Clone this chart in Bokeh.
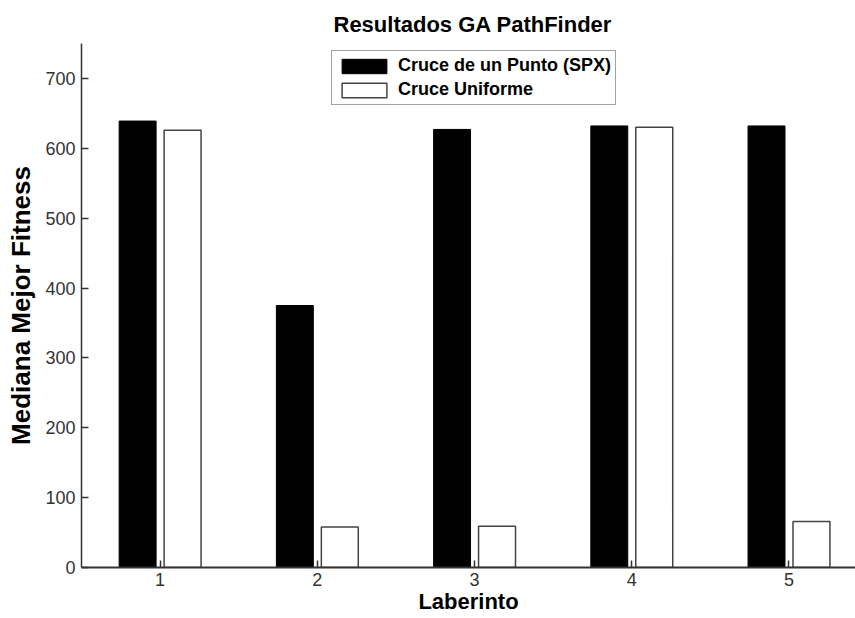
from bokeh.plotting import figure
from bokeh.models import ColumnDataSource, FixedTicker, Range1d, Legend, LegendItem
from bokeh.transform import dodge
from bokeh.embed import file_html
from bokeh.resources import INLINE

# ---- data ----
laberintos = [1, 2, 3, 4, 5]
spx = [639, 375, 627, 632, 632]          # Cruce de un Punto (SPX)
uniforme = [626, 58, 59, 630, 66]        # Cruce Uniforme
y_ticks = [0, 100, 200, 300, 400, 500, 600, 700]
series_names = ["Cruce de un Punto (SPX)", "Cruce Uniforme"]

FONT = "Liberation Sans"
AX = "#333333"

src = ColumnDataSource(dict(x=laberintos, spx=spx, uni=uniforme))

p = figure(width=855, height=618,
           x_range=Range1d(0.5, 5.423), y_range=Range1d(0, 750),
           output_backend="svg", toolbar_location=None,
           title="Resultados GA PathFinder",
           min_border_left=81, min_border_right=0,
           min_border_top=43, min_border_bottom=51)

p.background_fill_color = "white"
p.border_fill_color = "white"
p.outline_line_color = None
p.xgrid.grid_line_color = None
p.ygrid.grid_line_color = None

r1 = p.vbar(x=dodge("x", -0.143, range=p.x_range), top="spx", width=0.235,
            source=src, fill_color="black", line_color="black", line_width=1)
r2 = p.vbar(x=dodge("x", 0.143, range=p.x_range), top="uni", width=0.235,
            source=src, fill_color="white", line_color="#444444", line_width=1.5)

# title
p.title.text_font = FONT
p.title.text_font_size = "22px"
p.title.text_font_style = "bold"
p.title.text_color = "black"
p.title.align = "left"
p.title.offset = 252
p.title.standoff = 13

# axes
for ax in (p.xaxis[0], p.yaxis[0]):
    ax.axis_line_color = AX
    ax.major_tick_line_color = AX
    ax.major_tick_in = 7
    ax.major_tick_out = 0
    ax.minor_tick_line_color = None
    ax.major_label_text_font = FONT
    ax.major_label_text_font_size = "18px"
    ax.major_label_text_color = "#333333"
    ax.axis_label_text_font = FONT
    ax.axis_label_text_font_style = "bold"
    ax.axis_label_text_color = "black"

p.xaxis.ticker = FixedTicker(ticks=laberintos)
p.yaxis.ticker = FixedTicker(ticks=y_ticks)
p.xaxis.axis_line_width = 2
p.yaxis.axis_line_width = 1.5
p.xaxis.major_tick_line_width = 1.5
p.yaxis.major_tick_line_width = 1.5

p.xaxis.axis_label = "Laberinto"
p.xaxis.axis_label_text_font_size = "22px"
p.xaxis.major_label_standoff = 5
p.xaxis.axis_label_standoff = 0

p.yaxis.axis_label = "Mediana Mejor Fitness"
p.yaxis.axis_label_text_font_size = "26px"
p.yaxis.major_label_standoff = 6
p.yaxis.axis_label_standoff = 6

legend = Legend(items=[LegendItem(label=series_names[0], renderers=[r1]),
                       LegendItem(label=series_names[1], renderers=[r2])],
                location=(250, 462))
legend.label_text_font = FONT
legend.label_text_font_size = "18px"
legend.label_text_font_style = "bold"
legend.label_text_color = "black"
legend.glyph_width = 56
legend.glyph_height = 18
legend.label_height = 18
legend.label_standoff = 6
legend.spacing = 3
legend.padding = 4
legend.margin = 0
legend.border_line_color = "#444444"
legend.border_line_width = 1.5
legend.background_fill_color = "white"
legend.background_fill_alpha = 1
p.add_layout(legend, "center")

open("out.html", "w").write(file_html(p, INLINE))
